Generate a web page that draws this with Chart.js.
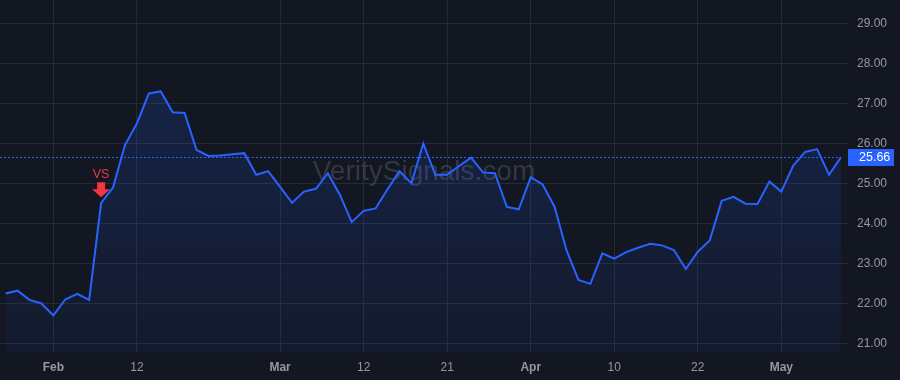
<!DOCTYPE html>
<html>
<head>
<meta charset="utf-8">
<script src="https://cdn.jsdelivr.net/npm/chart.js@4"></script>
<style>
  html, body { margin: 0; padding: 0; background: #131722; }
  #wrap { width: 900px; height: 380px; }
</style>
</head>
<body>
<div id="wrap"><canvas id="c" width="900" height="380"></canvas></div>
<script>
// ---- data ----
const dates = [
  '2025-01-28','2025-01-29','2025-01-30','2025-01-31',
  '2025-02-03','2025-02-04','2025-02-05','2025-02-06','2025-02-07',
  '2025-02-10','2025-02-11','2025-02-12','2025-02-13','2025-02-14',
  '2025-02-18','2025-02-19','2025-02-20','2025-02-21',
  '2025-02-24','2025-02-25','2025-02-26','2025-02-27','2025-02-28',
  '2025-03-03','2025-03-04','2025-03-05','2025-03-06','2025-03-07',
  '2025-03-10','2025-03-11','2025-03-12','2025-03-13','2025-03-14',
  '2025-03-17','2025-03-18','2025-03-19','2025-03-20','2025-03-21',
  '2025-03-24','2025-03-25','2025-03-26','2025-03-27','2025-03-28',
  '2025-03-31','2025-04-01','2025-04-02','2025-04-03','2025-04-04',
  '2025-04-07','2025-04-08','2025-04-09','2025-04-10','2025-04-11',
  '2025-04-14','2025-04-15','2025-04-16','2025-04-17',
  '2025-04-21','2025-04-22','2025-04-23','2025-04-24','2025-04-25',
  '2025-04-28','2025-04-29','2025-04-30','2025-05-01','2025-05-02',
  '2025-05-05','2025-05-06','2025-05-07','2025-05-08'
];
const prices = [
  22.26, 22.33, 22.10, 22.01,
  21.71, 22.11, 22.25, 22.10, 24.51,
  24.90, 25.96, 26.50, 27.25, 27.30,
  26.78, 26.76, 25.84, 25.69,
  25.70, 25.73, 25.76, 25.22, 25.31,
  24.92, 24.52, 24.80, 24.87, 25.26,
  24.73, 24.04, 24.32, 24.38, 24.86,
  25.31, 25.01, 26.00, 25.22, 25.22,
  25.44, 25.65, 25.28, 25.26, 24.42,
  24.36, 25.16, 24.98, 24.42, 23.34,
  22.60, 22.50, 23.26, 23.13, 23.29,
  23.40, 23.50, 23.46, 23.34,
  22.87, 23.30, 23.58, 24.57, 24.67,
  24.50, 24.49, 25.05, 24.80, 25.45,
  25.79, 25.86, 25.22, 25.66
];
const tickDates = ['2025-02-03','2025-02-12','2025-03-03','2025-03-12','2025-03-21','2025-04-01','2025-04-10','2025-04-22','2025-05-01'];
const tickTexts = ['Feb','12','Mar','12','21','Apr','10','22','May'];
const monthTicks = ['Feb','Mar','Apr','May'];
const yTicks = [21, 22, 23, 24, 25, 26, 27, 28, 29];
const signalDate = '2025-02-07';
const signalText = 'VS';
const watermarkText = 'VeritySignals.com';

// ---- build ----
const points = prices.map((v, i) => ({ x: i, y: v }));
const tickIdx = tickDates.map(d => dates.indexOf(d));
const labelFor = {};
tickIdx.forEach((ix, k) => { labelFor[ix] = tickTexts[k]; });
const signalIdx = dates.indexOf(signalDate);
const lastPrice = prices[prices.length - 1];

const FONT = '"Liberation Sans", Arial, sans-serif';
const TEXT = '#9598a1';
const GRID = '#242a38';
const BLUE = '#2962ff';
const RED = '#f23645';

const overlay = {
  id: 'overlay',
  beforeDatasetsDraw(chart) {
    const { ctx } = chart;
    ctx.save();
    ctx.font = '28px ' + FONT;
    ctx.fillStyle = 'rgba(120,125,140,0.32)';
    ctx.textAlign = 'center';
    ctx.textBaseline = 'middle';
    ctx.fillText(watermarkText, 424, 172);
    ctx.restore();
  },
  afterDatasetsDraw(chart) {
    const { ctx, chartArea, scales } = chart;
    const y = scales.y.getPixelForValue(lastPrice);
    ctx.save();
    // dashed last price line
    ctx.strokeStyle = BLUE;
    ctx.lineWidth = 1;
    ctx.setLineDash([2, 2]);
    ctx.beginPath();
    ctx.moveTo(chartArea.left, Math.round(y) + 0.5);
    ctx.lineTo(chartArea.right, Math.round(y) + 0.5);
    ctx.stroke();
    ctx.setLineDash([]);
    // price label
    const bx = chartArea.right + 7, bw = 46, bh = 17;
    ctx.fillStyle = BLUE;
    ctx.fillRect(bx, Math.round(y) - 8, bw, bh);
    ctx.fillStyle = '#ffffff';
    ctx.font = '12.5px ' + FONT;
    ctx.textAlign = 'left';
    ctx.textBaseline = 'middle';
    ctx.fillText(lastPrice.toFixed(2), chartArea.right + 18, Math.round(y) + 0.5);
    // signal marker
    const sx = scales.x.getPixelForValue(signalIdx);
    const sy = scales.y.getPixelForValue(prices[signalIdx]);
    const tip = sy - 6;
    ctx.fillStyle = RED;
    ctx.beginPath();
    ctx.moveTo(sx - 4, tip - 15);
    ctx.lineTo(sx + 4, tip - 15);
    ctx.lineTo(sx + 4, tip - 8);
    ctx.lineTo(sx + 9, tip - 8);
    ctx.lineTo(sx, tip);
    ctx.lineTo(sx - 9, tip - 8);
    ctx.lineTo(sx - 4, tip - 8);
    ctx.closePath();
    ctx.fill();
    ctx.font = '12.5px ' + FONT;
    ctx.textAlign = 'center';
    ctx.textBaseline = 'alphabetic';
    ctx.fillText(signalText, sx, tip - 19);
    ctx.restore();
  }
};

function noPad(s) {
  s.paddingTop = 0; s.paddingBottom = 0; s.paddingLeft = 0; s.paddingRight = 0;
}

new Chart(document.getElementById('c'), {
  type: 'line',
  data: {
    datasets: [{
      data: points,
      borderColor: BLUE,
      borderWidth: 2,
      pointRadius: 0,
      tension: 0,
      fill: 'start',
      backgroundColor: (c) => {
        const a = c.chart.chartArea;
        if (!a) return 'rgba(41,98,255,0.1)';
        const g = c.chart.ctx.createLinearGradient(0, a.top + 90, 0, a.bottom);
        g.addColorStop(0, 'rgba(41,98,255,0.17)');
        g.addColorStop(1, 'rgba(41,98,255,0.05)');
        return g;
      }
    }]
  },
  options: {
    responsive: false,
    animation: false,
    layout: { padding: 0 },
    plugins: { legend: { display: false }, tooltip: { enabled: false } },
    scales: {
      x: {
        type: 'linear',
        min: -0.47,
        max: dates.length - 1,
        afterBuildTicks: (s) => { s.ticks = tickIdx.map(v => ({ value: v })); },
        afterFit: (s) => { s.height = 28; noPad(s); },
        grid: { color: GRID, drawTicks: false, lineWidth: 1 },
        border: { display: false },
        ticks: {
          autoSkip: false,
          maxRotation: 0,
          padding: 8,
          color: TEXT,
          font: (ctx) => ({
            family: FONT, size: 12,
            weight: (ctx.tick && monthTicks.includes(labelFor[ctx.tick.value])) ? 'bold' : 'normal'
          }),
          callback: (v) => labelFor[v] || ''
        }
      },
      y: {
        position: 'right',
        min: 20.8,
        max: 29.58,
        afterBuildTicks: (s) => { s.ticks = yTicks.map(v => ({ value: v })); },
        afterFit: (s) => { s.width = 59; noPad(s); },
        grid: { color: GRID, tickLength: 7, lineWidth: 1 },
        border: { display: false },
        ticks: {
          padding: 9,
          color: TEXT,
          font: { family: FONT, size: 12 },
          callback: (v) => Number(v).toFixed(2)
        }
      }
    }
  },
  plugins: [overlay]
});
</script>
</body>
</html>
